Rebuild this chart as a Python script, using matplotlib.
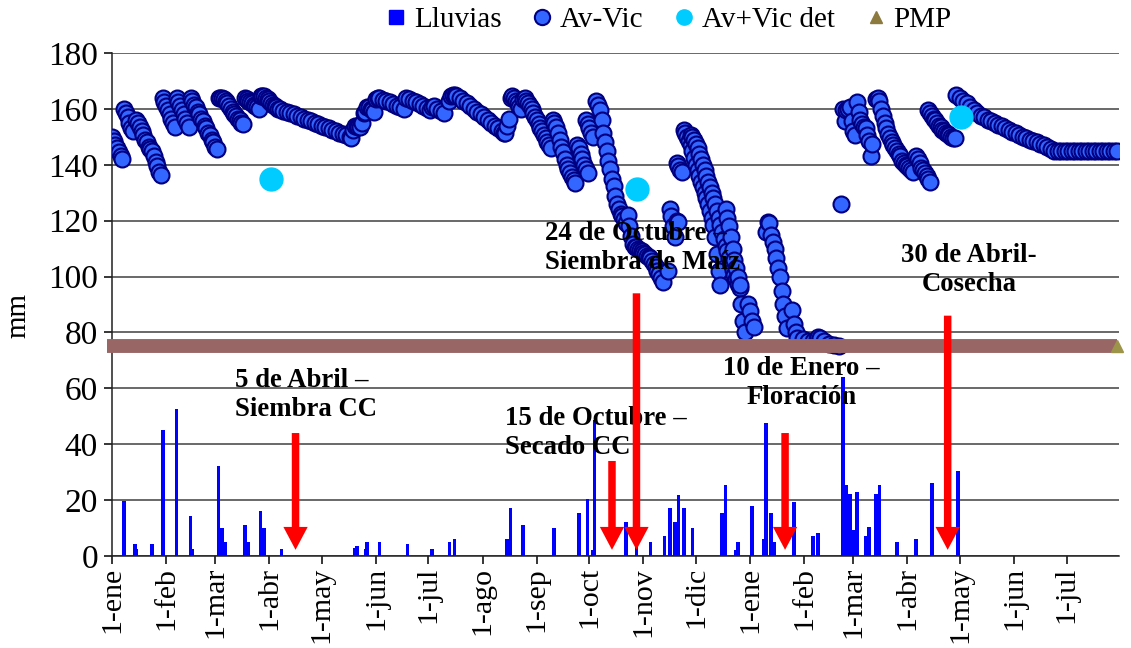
import matplotlib
matplotlib.use('Agg')
import matplotlib.pyplot as plt
from matplotlib.lines import Line2D
from datetime import date

# ---------------- data ----------------
inicio = date(2009, 1, 1)
meses = ['ene', 'feb', 'mar', 'abr', 'may', 'jun', 'jul', 'ago', 'sep', 'oct', 'nov', 'dic']

# Lluvias (day offset from 1-ene, mm)
lluvia_dias = [7, 13, 14, 23, 29, 37, 45, 46, 61, 63, 65, 76, 78, 85, 87, 97, 139, 140, 145, 146,
               153, 169, 183, 193, 196, 226, 228, 235, 253, 267, 272, 275, 276, 294, 300, 308,
               316, 319, 322, 324, 327, 332, 349, 351, 357, 358, 366, 373, 374, 377, 379, 390,
               401, 404, 418, 420, 422, 424, 426, 431, 433, 437, 439, 449, 460, 469, 484]
lluvia_mm = [19.5, 4.3, 2.4, 4.3, 45, 52.5, 14.4, 2.4, 32.3, 10, 5, 11, 5, 16, 10, 2.4, 3, 3.4, 2.4, 5,
             5, 4.3, 2.4, 5, 6, 6, 17, 11, 10, 15.3, 20.3, 2, 48.7, 12, 4.5, 5,
             7, 17, 12, 22, 17, 10, 15.3, 25.4, 2.1, 5, 18, 6, 47.5, 15.3, 5, 19.4,
             7, 8.3, 64, 25.4, 22.2, 9.3, 23, 7, 10.2, 22.2, 25.4, 5.1, 6, 26.2, 30.4]

# Av-Vic (day offset, mm)
avvic_dias = (
    [0, 1, 2, 3, 4, 5, 6]
    + [7, 8, 9, 10, 11, 12]
    + [14, 15, 16, 17, 18, 19, 20, 21, 22]
    + [23, 24, 25, 26, 27, 28]
    + [29, 30, 31, 32, 33, 34, 35, 36]
    + [37, 38, 39, 40, 41, 42, 43, 44]
    + [45, 46, 47, 48, 49, 50, 51, 52, 53, 54, 55, 56, 57, 58, 59, 60]
    + [61, 62, 63, 64, 65, 66, 67, 68, 69, 70, 71, 72, 73, 74, 75]
    + [76, 77, 78, 79, 80, 81, 82, 83, 84]
    + [85, 86, 87, 88, 89, 90, 91, 92, 93, 94, 95]
    + [96, 98, 100, 102, 104, 106, 108, 110, 112, 114, 116, 118, 120, 122, 124, 126, 128, 130, 132, 134, 136, 137]
    + [138, 139, 140, 141, 142, 143, 144, 145, 146, 147, 148, 149, 150, 151, 152, 153]
    + [155, 157, 159, 161, 163, 165, 167]
    + [168, 170, 172, 174, 176, 178, 180, 182, 183, 184, 186, 188, 190]
    + [193, 194, 195, 196, 197, 199, 201, 203, 205, 207, 209, 211, 213, 215, 217, 219, 221, 223, 224]
    + [225, 226, 227, 228, 229, 230, 231, 232, 233, 234, 235, 236]
    + [237, 238, 239, 240, 241, 242, 243, 244, 245, 246, 247, 248, 249, 250, 251]
    + [252, 253, 254, 255, 256, 257, 258, 259, 260, 261, 262, 263, 264, 265]
    + [266, 267, 268, 269, 270, 271, 272]
    + [271, 272, 273, 274, 275]
    + [277, 278, 279, 280, 281, 282, 283, 284, 285, 286, 287, 288, 289, 290, 291, 292, 293, 294]
    + [295, 296, 297, 298, 299, 300, 301, 302, 303, 304, 305, 306, 307, 308, 309, 310, 311, 312, 313, 314, 315]
    + [318, 319, 320, 321, 322, 323, 324]
    + [323, 324, 325, 326]
    + [327, 328, 329, 330, 331, 332, 333, 334, 335, 336, 337, 338, 339, 340, 341, 342, 343, 344, 345, 346, 347, 348]
    + [331, 332, 333, 334, 335, 336, 337, 338, 339, 340, 341, 342, 343, 344, 345, 346, 347, 348, 349, 350,
       351, 352, 353, 354, 355, 356, 357, 358, 359, 360, 361, 362]
    + [351, 352, 353, 354, 355, 356, 357, 358, 359]
    + [364, 365, 366, 367]
    + [374, 375, 376, 377, 378, 379, 380, 381, 382, 383, 384, 385, 386]
    + [389, 390, 391, 392, 395, 398, 401, 403, 404, 405, 407, 410, 413, 416]
    + [417]
    + [418, 419, 420, 421, 422, 423, 424, 425, 426, 427, 428, 429, 430, 431, 432, 433, 434, 435]
    + [437, 438, 439, 440, 441, 442, 443, 444, 445, 446, 447, 448, 449, 450, 451, 452, 453, 454, 455, 456, 457, 458]
    + [460, 461, 462, 463, 464, 465, 466, 467, 468]
    + [467, 468, 469, 470, 471, 472, 473, 474, 475, 476, 477, 478, 479, 480, 481, 482]
    + [483, 485, 487, 489, 491, 493, 495, 497, 499, 501, 503, 505, 507, 509, 511, 513, 515, 517, 519, 521,
       523, 525, 527, 529, 531, 533, 535]
    + [537, 539, 541, 543, 545, 547, 549, 551, 553, 555, 557, 559, 561, 563, 565, 567, 569, 571, 573, 575]
)
avvic_mm = (
    [150, 148.5, 147, 146, 144.5, 143, 142]
    + [160, 158.5, 157, 155, 153, 152]
    + [156, 155, 153.5, 152, 150.5, 149, 148, 146.5, 145.5]
    + [145, 143, 141, 139.5, 137.5, 136.5]
    + [164, 162.5, 161, 159.5, 158, 156.5, 155, 153.5]
    + [164, 162.5, 161, 159.5, 158, 156.5, 155, 153.5]
    + [164, 163, 161.5, 160.5, 159, 158, 156.5, 155.5, 154, 153, 151.5, 150.5, 149, 148, 146.5, 145.5]
    + [164, 164, 164, 163.5, 163, 162, 161, 160, 159, 158, 157.5, 156.5, 156, 155, 154.5]
    + [164, 163.5, 163, 162.5, 162, 161.5, 161, 160.5, 160]
    + [164.5, 164.5, 164.5, 164, 163.5, 163, 162, 161.5, 161, 160.5, 160]
    + [159.8, 159.4, 159, 158.5, 158, 157.5, 157, 156.5, 156, 155.5, 155, 154.5, 154, 153.5, 153, 152.5, 152, 151.5, 151, 150.5, 150, 149.5]
    + [152.5, 154, 154, 153.5, 153.5, 155, 158.5, 159, 160.5, 160.5, 160, 159.5, 159, 163.5, 164, 164]
    + [163.2, 162.8, 162.4, 161.8, 161.2, 160.5, 159.8]
    + [163.8, 163.4, 163, 162.4, 161.8, 161, 160.3, 159.6, 160.8, 161, 160, 159.2, 158.5]
    + [163, 164.5, 165, 165, 164.5, 163.8, 163, 162, 161, 160, 159, 158, 157, 156, 155, 154, 153, 152, 151.5]
    + [151.5, 154, 156.5, 164, 164.5, 164, 163, 162, 160.5, 160, 163.5, 164]
    + [163, 162, 161, 160, 158.5, 157, 156, 154.5, 153, 152, 150.5, 149.5, 148, 147, 146]
    + [156, 155, 153.5, 151.5, 149, 146.5, 144.5, 142, 140, 138.5, 137, 135.5, 134.5, 133.5]
    + [147, 146, 144, 142, 140, 138.5, 137]
    + [156, 154.5, 153, 151.5, 150]
    + [163, 161.5, 159.5, 156, 151.5, 148, 145, 141.5, 138.5, 135, 132.5, 129, 126, 124, 122.5, 121.5, 120.5, 119]
    + [122, 118, 114.5, 111.5, 110.5, 110.5, 110, 109.5, 109, 108.5, 108, 107.5, 107, 106.5, 105.5, 104.5, 103.5, 102, 101, 99.5, 98]
    + [102, 124, 121.5, 118, 114, 120, 119.5]
    + [140.5, 139.5, 138, 137.5]
    + [152.5, 151.5, 150, 148.5, 147, 145, 142.5, 140, 138, 136, 134, 132, 130, 128, 126, 123.5, 121, 118.5, 114, 108, 102, 97]
    + [150.5, 150, 149, 147.5, 146, 144, 142, 140, 138, 136, 134, 132, 130, 128, 126, 123.5, 121, 118.5, 116, 113.5,
       111, 109, 106.5, 104.5, 102.5, 100.5, 99, 97.5, 96, 90, 84, 80]
    + [124, 121, 118, 114, 110, 106, 103, 100, 97]
    + [90, 87.5, 84, 82]
    + [116, 119.5, 119, 115, 112.5, 110, 106.5, 103, 100, 95, 90, 86, 81.5]
    + [88, 83, 80, 78, 77.5, 77, 77, 77.5, 78.5, 78, 77, 76, 75.5, 75]
    + [126]
    + [160, 155.5, 159.5, 160, 160.5, 155.5, 152, 150.5, 162.5, 159, 156, 154.5, 153.5, 153, 150.5, 148.5, 143, 147.5]
    + [163.5, 164, 163, 160, 157.5, 155, 153, 151, 149.5, 148, 147, 146, 145, 144, 143, 141.5, 140.5, 140, 139.5, 139, 138, 137.5]
    + [143, 142, 140.5, 139, 138, 137, 136, 135, 134]
    + [159.5, 158.5, 157.5, 156.5, 156, 155, 154, 153.5, 152.5, 152, 151.5, 151, 150.5, 150, 149.5, 149.5]
    + [165, 164, 163, 162, 160.5, 159.5, 158.5, 157.5, 157, 156, 155.5, 155, 154.2, 153.7, 153, 152.3, 151.8, 151.2, 150.7, 150,
       149.5, 149, 148.5, 148, 147.5, 147, 146.5]
    + [145.5, 145, 145, 145, 145, 145, 145, 145, 145, 145, 145, 145, 145, 145, 145, 145, 145, 145, 145, 145]
)
assert len(avvic_dias) == len(avvic_mm)

# Av+Vic det
det_dias = [91, 300.5, 485.5]
det_mm = [135, 131.4, 157]

# PMP
pmp_mm = 75
pmp_dias = [-3, 575]

# Eventos (arrows)
evento_dias = [105, 286, 300, 385, 478]
evento_top = [44, 34, 94, 44, 86]
evento_textos = ['5 de Abril –\nSiembra CC', '15 de Octubre –\nSecado CC',
                 '24 de Octubre –\nSiembra de Maíz', '10 de Enero –\nFloración',
                 '30 de Abril-\nCosecha']

# ---------------- plot ----------------
plt.rcParams['font.family'] = ['Liberation Serif', 'DejaVu Serif']

fig = plt.figure(figsize=(11.31, 6.48), dpi=100)
ax = fig.add_axes([0.0990, 0.1420, 0.8904, 0.7762])

ax.bar(lluvia_dias, lluvia_mm, width=2.1, color='#0000FF', zorder=2)
ax.plot(avvic_dias, avvic_mm, ls='none', marker='o', ms=11.5, mfc='#3366FF',
        mec='#000080', mew=1.5, zorder=3)
ax.plot(det_dias, det_mm, ls='none', marker='o', ms=16.5, mfc='#00CCFF',
        mec='#00CCFF', zorder=4)
ax.plot(pmp_dias, [pmp_mm, pmp_mm], color='#996666', lw=10, solid_capstyle='butt', zorder=5,
        clip_on=False)
ax.plot(pmp_dias[-1:], [pmp_mm], ls='none', marker='^', ms=8, mfc='#9C9448', mec='#9C9448',
        zorder=5, clip_on=False)

# annotations text
txt_pos = [(70.3, 57.6, 'left'), (224.6, 44, 'left'), (247.4, 110.2, 'left'),
           (394.3, 61.9, 'center'), (490.3, 102.4, 'center')]
for (tx, ty, ha), s in zip(txt_pos, evento_textos):
    ax.text(tx, ty, s, ha=ha, va='center', multialignment=ha, fontsize=19.3,
            fontweight='bold', linespacing=1.2, zorder=6)

for d, top in zip(evento_dias, evento_top):
    ax.annotate('', xy=(d, 2.2), xytext=(d, top),
                arrowprops=dict(facecolor='#FF0000', edgecolor='none', width=5.4,
                                headwidth=17.5, headlength=16.5, shrink=0),
                zorder=7)

# axes
ax.set_xlim(0, 576)
ax.set_ylim(0, 180)
ax.set_yticks(range(0, 181, 20))
ax.yaxis.grid(True, color='#404040', lw=1.1)
ax.set_axisbelow(True)
for s in ['top', 'right']:
    ax.spines[s].set_visible(False)
ax.spines['left'].set_color('#202020')
ax.spines['bottom'].set_color('#202020')
ax.spines['left'].set_linewidth(1.1)
ax.spines['bottom'].set_linewidth(1.1)

tick_pos, tick_lab = [], []
for i in range(19):
    y = 2009 + i // 12
    m = i % 12 + 1
    tick_pos.append((date(y, m, 1) - inicio).days)
    tick_lab.append('1-' + meses[m - 1])
ax.set_xticks(tick_pos)
ax.set_xticklabels(tick_lab, rotation=90)
ax.tick_params(axis='x', direction='out', length=6, width=1.1, labelsize=21.5, pad=2)
ax.tick_params(axis='y', direction='out', length=6, width=1.1, labelsize=24, pad=4)

fig.text(18 / 1131, 1 - 315 / 648, 'mm', rotation=90, ha='center', va='center', fontsize=21)

handles = [
    Line2D([], [], ls='none', marker='s', ms=10, mfc='#0000FF', mec='#0000FF', label='Lluvias'),
    Line2D([], [], ls='none', marker='o', ms=11, mfc='#3366FF', mec='#000080', mew=1.5, label='Av-Vic'),
    Line2D([], [], ls='none', marker='o', ms=11, mfc='#00CCFF', mec='#00CCFF', label='Av+Vic det'),
    Line2D([], [], ls='none', marker='^', ms=9, mfc='#8C7A3E', mec='#8C7A3E', label='PMP'),
]
fig.legend(handles=handles, loc='center', bbox_to_anchor=(668 / 1131, 1 - 20 / 648), ncol=4,
           frameon=False, fontsize=21, handlelength=0.8, handletextpad=0.2, columnspacing=1.0,
           borderpad=0)

fig.savefig('out.png', dpi=100)
